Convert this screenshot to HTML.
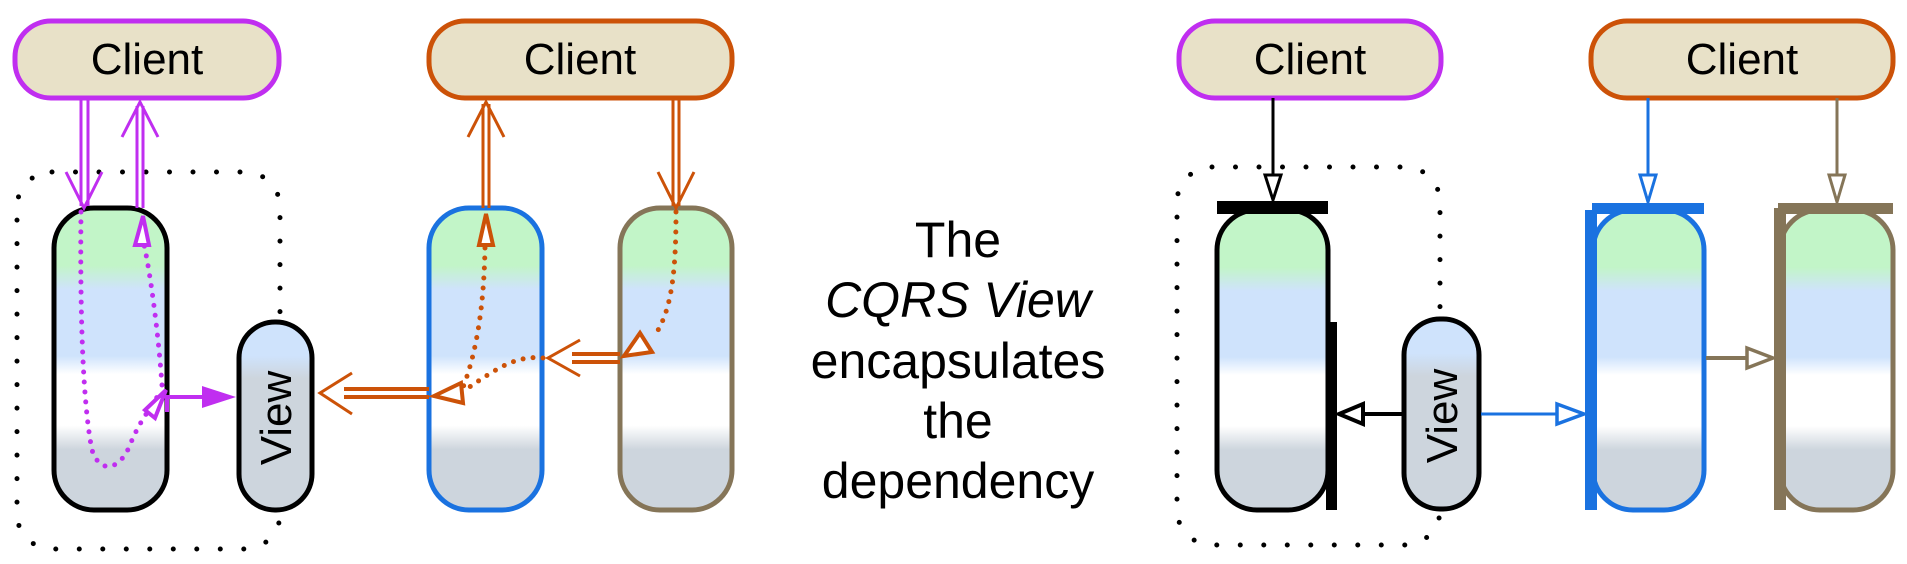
<!DOCTYPE html>
<html><head><meta charset="utf-8"><style>
html,body{margin:0;padding:0;background:#fff;width:1907px;height:564px;overflow:hidden}
text{font-family:"Liberation Sans",sans-serif}
</style></head><body>
<svg width="1907" height="564" viewBox="0 0 1907 564" xmlns="http://www.w3.org/2000/svg">
<defs>
<linearGradient id="g" x1="0" y1="0" x2="0" y2="1">
<stop offset="0" stop-color="#c2f5c8"/><stop offset="0.19" stop-color="#c2f5c8"/>
<stop offset="0.27" stop-color="#cfe3fc"/><stop offset="0.49" stop-color="#cfe3fc"/>
<stop offset="0.55" stop-color="#ffffff"/><stop offset="0.72" stop-color="#ffffff"/>
<stop offset="0.8" stop-color="#cdd5dd"/><stop offset="1" stop-color="#cdd5dd"/>
</linearGradient>
<linearGradient id="gv" x1="0" y1="0" x2="0" y2="1">
<stop offset="0" stop-color="#cfe3fc"/><stop offset="0.18" stop-color="#cfe3fc"/>
<stop offset="0.3" stop-color="#cdd5dd"/><stop offset="1" stop-color="#cdd5dd"/>
</linearGradient>
</defs>
<g fill="none" stroke="#000" stroke-width="5" stroke-dasharray="0 23.5" stroke-linecap="round">
<rect x="17" y="172" width="263" height="377" rx="35"/>
<rect x="1177" y="167" width="263" height="378" rx="35"/>
</g>
<g stroke-width="5" fill="#e8e1c8">
<rect x="15" y="21" width="264" height="77" rx="36" stroke="#c02ef0"/>
<rect x="429" y="21" width="303" height="77" rx="36" stroke="#cc5208"/>
<rect x="1179" y="21" width="262" height="77" rx="36" stroke="#c02ef0"/>
<rect x="1591" y="21" width="302" height="77" rx="36" stroke="#cc5208"/>
</g>
<g font-size="44" text-anchor="middle" fill="#000">
<text x="147" y="74">Client</text><text x="580" y="74">Client</text>
<text x="1310" y="74">Client</text><text x="1742" y="74">Client</text>
</g>
<g stroke-width="5" fill="url(#g)">
<rect x="54" y="208" width="113" height="302" rx="40" stroke="#000"/>
<rect x="429" y="208" width="113" height="302" rx="40" stroke="#1a72e0"/>
<rect x="620" y="208" width="112" height="302" rx="40" stroke="#857558"/>
<rect x="1217" y="210" width="111" height="300" rx="40" stroke="#000"/>
<rect x="1593" y="210" width="111" height="300" rx="40" stroke="#1a72e0"/>
<rect x="1780" y="210" width="113" height="300" rx="40" stroke="#857558"/>
</g>
<rect x="239" y="322" width="73" height="188" rx="36" fill="url(#gv)" stroke="#000" stroke-width="5"/>
<rect x="1404" y="319" width="75" height="190" rx="36" fill="url(#gv)" stroke="#000" stroke-width="5"/>
<text font-size="44" transform="translate(291,418) rotate(-90)" text-anchor="middle">View</text>
<text font-size="44" transform="translate(1457,416) rotate(-90)" text-anchor="middle">View</text>
<rect x="1217" y="201" width="111" height="13" fill="#000"/>
<rect x="1326" y="334" width="11" height="176" fill="#000"/>
<rect x="1328" y="322" width="9" height="12" fill="#000"/>
<rect x="1592" y="203" width="112" height="11" fill="#1a72e0"/>
<rect x="1585" y="210" width="12" height="300" fill="#1a72e0"/>
<rect x="1778" y="203" width="115" height="11" fill="#857558"/>
<rect x="1774" y="208" width="12" height="302" fill="#857558"/>
<g stroke-width="3" fill="#fff">
<line x1="1273" y1="98" x2="1273" y2="175" stroke="#000"/>
<polygon points="1265,175 1281,175 1273,200" stroke="#000"/>
<line x1="1648" y1="98" x2="1648" y2="175" stroke="#1a72e0"/>
<polygon points="1640,175 1656,175 1648,202" stroke="#1a72e0"/>
<line x1="1837" y1="98" x2="1837" y2="175" stroke="#857558"/>
<polygon points="1829,175 1845,175 1837,202" stroke="#857558"/>
<line x1="1404" y1="414" x2="1363" y2="414" stroke="#000" stroke-width="4"/>
<polygon points="1363,404 1363,424 1339,414" stroke="#000" stroke-width="4"/>
<line x1="1481" y1="414" x2="1557" y2="414" stroke="#1a72e0"/>
<polygon points="1557,404 1557,424 1584,414" stroke="#1a72e0" stroke-width="3.5"/>
<line x1="1706" y1="358" x2="1747" y2="358" stroke="#857558" stroke-width="4"/>
<polygon points="1747,348 1747,368 1773,358" stroke="#857558" stroke-width="3.5"/>
</g>
<g stroke="#c02ef0" stroke-width="3" fill="none">
<line x1="81" y1="100" x2="81" y2="206"/><line x1="88" y1="100" x2="88" y2="206"/>
<polyline points="66,172 84,208 102,172"/>
<line x1="137" y1="106" x2="137" y2="208"/><line x1="143" y1="106" x2="143" y2="208"/>
<polyline points="122,137 140,102 158,137"/>
<path d="M81,212 C80,300 82,400 92,450 C100,475 120,470 130,445 C140,420 150,410 160,392" stroke-dasharray="0 10" stroke-linecap="round" stroke-width="5"/>
<path d="M162,385 C158,330 150,270 143,240" stroke-dasharray="0 10" stroke-linecap="round" stroke-width="5"/>
<polygon points="143,216 135,245 149,245" stroke-width="4" fill="#fff"/>
<polygon points="166,390 145,410 155,418" stroke-width="4" fill="#fff"/>
<polyline points="167,412 167,397 205,397" stroke-width="4"/>
</g>
<polygon points="202,386 236,397 202,408" fill="#c02ef0"/>
<g stroke="#cc5208" stroke-width="3" fill="none">
<line x1="483" y1="104" x2="483" y2="208"/><line x1="489" y1="104" x2="489" y2="208"/>
<polyline points="468,137 486,102 504,137"/>
<line x1="673" y1="98" x2="673" y2="206"/><line x1="679" y1="98" x2="679" y2="206"/>
<polyline points="658,172 676,208 694,172"/>
<line x1="620" y1="354" x2="572" y2="354" stroke-width="4"/><line x1="620" y1="362" x2="572" y2="362" stroke-width="4"/>
<polyline points="580,340 548,358 580,376"/>
<line x1="429" y1="389" x2="344" y2="389" stroke-width="4"/><line x1="429" y1="397" x2="344" y2="397" stroke-width="4"/>
<polyline points="352,373 320,393 352,414"/>
<path d="M485,248 C484,300 478,350 462,390" stroke-dasharray="0 10" stroke-linecap="round" stroke-width="5"/>
<path d="M543,358 C515,355 495,370 468,388" stroke-dasharray="0 10" stroke-linecap="round" stroke-width="5"/>
<path d="M676,212 C676,270 672,310 655,335" stroke-dasharray="0 10" stroke-linecap="round" stroke-width="5"/>
<polygon points="486,214 479,245 493,245" stroke-width="4" fill="#fff"/>
<polygon points="434,396 461,383 463,403" stroke-width="4" fill="#fff"/>
<polygon points="624,356 640,333 652,352" stroke-width="4" fill="#fff"/>
</g>
<g font-size="50" text-anchor="middle" fill="#000">
<text x="958" y="257">The</text>
<text x="958" y="317" font-style="italic">CQRS View</text>
<text x="958" y="378">encapsulates</text>
<text x="958" y="438">the</text>
<text x="958" y="498">dependency</text>
</g>
</svg>
</body></html>
